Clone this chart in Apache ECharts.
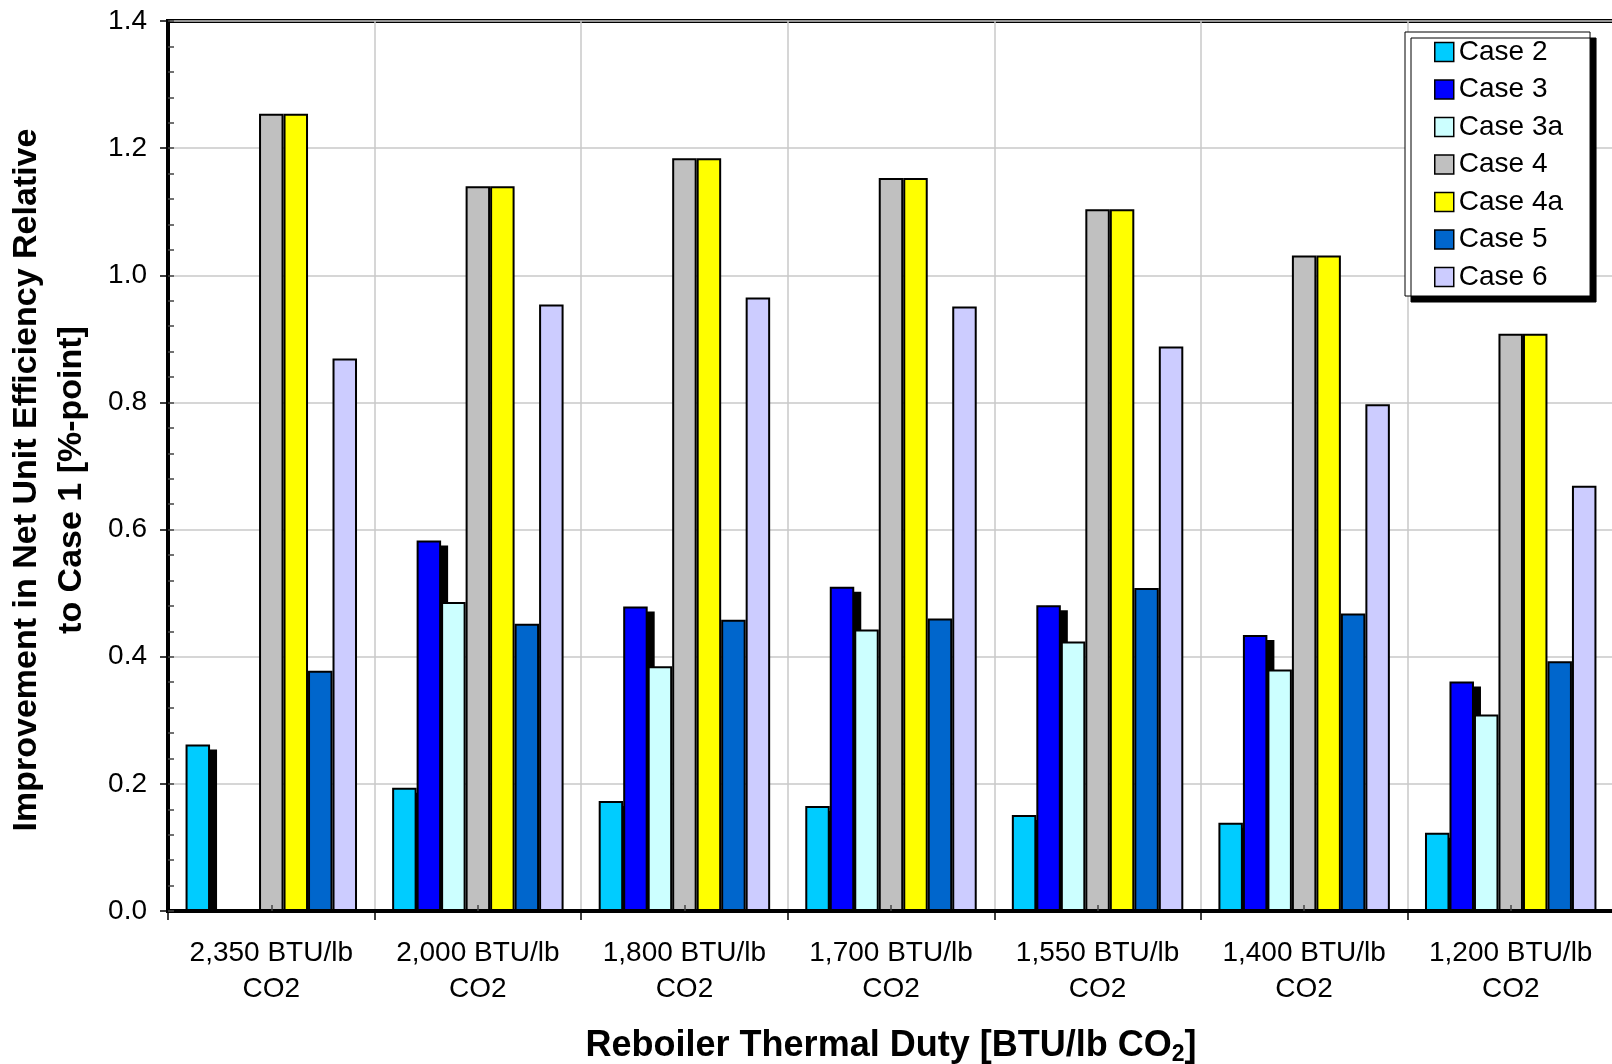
<!DOCTYPE html>
<html>
<head>
<meta charset="utf-8">
<title>Reboiler Thermal Duty</title>
<script src="https://cdn.jsdelivr.net/npm/echarts@6/dist/echarts.min.js"></script>
<style>
  html, body { margin: 0; padding: 0; background: #fff; }
  #main { width: 1612px; height: 1064px; }
</style>
</head>
<body>
<div id="main"></div>
<script>
// categories (reboiler duty)
var duties = ['2,350 BTU/lb\nCO2', '2,000 BTU/lb\nCO2', '1,800 BTU/lb\nCO2', '1,700 BTU/lb\nCO2',
  '1,550 BTU/lb\nCO2', '1,400 BTU/lb\nCO2', '1,200 BTU/lb\nCO2'];

// improvement vs case 1 [%-point]
var case2  = [0.262, 0.194, 0.173, 0.165, 0.151, 0.139, 0.123];
var case3  = [null, 0.583, 0.479, 0.510, 0.481, 0.434, 0.361];
var case3a = [null, 0.486, 0.385, 0.443, 0.424, 0.380, 0.309];
var case4  = [1.254, 1.140, 1.184, 1.153, 1.104, 1.031, 0.908];
var case4a = [1.254, 1.140, 1.184, 1.153, 1.104, 1.031, 0.908];
var case5  = [0.378, 0.452, 0.458, 0.460, 0.508, 0.468, 0.393];
var case6  = [0.869, 0.954, 0.965, 0.951, 0.888, 0.797, 0.669];

var seriesNames = ['Case 2', 'Case 3', 'Case 3a', 'Case 4', 'Case 4a', 'Case 5', 'Case 6'];
var seriesData = [case2, case3, case3a, case4, case4a, case5, case6];
var colors = ['#00CCFF', '#0000FF', '#CCFFFF', '#C0C0C0', '#FFFF00', '#0066CC', '#CCCCFF'];

var font = "'Liberation Sans', Arial, sans-serif";
var catGap = 0.17; // barCategoryGap

var chart = echarts.init(document.getElementById('main'), null, { renderer: 'canvas' });

var series = seriesData.map(function (d, i) {
  return {
    name: seriesNames[i],
    type: 'bar',
    data: d,
    barGap: '0%',
    barCategoryGap: (catGap * 100) + '%',
    itemStyle: { color: colors[i], borderColor: '#000', borderWidth: 2 },
    emphasis: { disabled: true },
    z: 3
  };
});

// excel style drop shadow, only visible on case 2 / case 3
function shadowSeries(d, idx) {
  var pts = [];
  d.forEach(function (v, k) { if (v != null) pts.push([k, v]); });
  return {
    type: 'custom',
    name: seriesNames[idx] + ' shadow',
    data: pts,
    z: 2,
    silent: true,
    encode: { x: 0, y: 1 },
    renderItem: function (params, api) {
      var base = api.coord([api.value(0), 0]);
      var top = api.coord([api.value(0), api.value(1)]);
      var band = api.size([1, 0])[0];
      var inner = band * (1 - catGap);
      var bw = inner / 7;
      var left = base[0] - inner / 2 + idx * bw;
      return {
        type: 'rect',
        shape: { x: left + 6, y: top[1] + 5, width: bw + 1, height: base[1] - top[1] - 5 },
        style: { fill: '#000' }
      };
    }
  };
}
series.push(shadowSeries(case2, 0));
series.push(shadowSeries(case3, 1));

var option = {
  animation: false,
  backgroundColor: '#fff',
  textStyle: { fontFamily: font },
  grid: {
    left: 168, top: 21, right: -2, bottom: 153,
    outerBoundsMode: 'none',
    containLabel: false,
    show: true, borderColor: '#000', borderWidth: 4
  },
  legend: {
    orient: 'vertical',
    left: 1405, top: 32,
    padding: [6, 27, 5, 29],
    itemWidth: 19, itemHeight: 19, itemGap: 9.5,
    icon: 'rect',
    backgroundColor: '#fff',
    borderColor: '#000', borderWidth: 1,
    shadowColor: '#000', shadowBlur: 0, shadowOffsetX: 6, shadowOffsetY: 6,
    itemStyle: { borderColor: '#000', borderWidth: 1.5 },
    textStyle: { fontSize: 28, color: '#000', fontFamily: font },
    data: seriesNames
  },
  xAxis: [{
    type: 'category',
    data: duties,
    boundaryGap: true,
    name: '{b|Reboiler Thermal Duty [BTU/lb CO}{s|2}{b|]}',
    nameLocation: 'middle',
    nameGap: 115,
    nameTextStyle: {
      rich: {
        b: { fontSize: 36, fontWeight: 'bold', color: '#000', fontFamily: font, lineHeight: 40 },
        s: { fontSize: 23, fontWeight: 'bold', color: '#000', fontFamily: font, lineHeight: 24, verticalAlign: 'bottom' }
      }
    },
    axisLine: { lineStyle: { color: '#000', width: 4 } },
    axisTick: { show: true, length: 9, lineStyle: { color: '#000', width: 1.5 } },
    axisLabel: { fontSize: 28, color: '#000', lineHeight: 36, margin: 24, interval: 0, fontFamily: font },
    splitLine: { show: true, lineStyle: { color: '#c8c8c8', width: 1.5 } }
  }, {
    // small ticks in the middle of each group
    type: 'category',
    data: duties,
    position: 'bottom',
    z: 5,
    axisLine: { show: false },
    axisTick: { show: true, inside: true, alignWithLabel: true, length: 6, lineStyle: { color: '#444', width: 1.5 } },
    axisLabel: { show: false },
    splitLine: { show: false }
  }],
  yAxis: [{
    type: 'value',
    min: 0, max: 1.4, interval: 0.2,
    name: 'Improvement in Net Unit Efficiency Relative\nto Case 1 [%-point]',
    nameLocation: 'middle',
    nameRotate: 90,
    nameGap: 74,
    nameTextStyle: { fontSize: 34, fontWeight: 'bold', color: '#000', lineHeight: 45, fontFamily: font,
      padding: [0, 28, 0, 0] },
    axisLine: { show: true, lineStyle: { color: '#000', width: 4 } },
    axisTick: { show: true, length: 8, lineStyle: { color: '#000', width: 1.5 } },
    axisLabel: { fontSize: 28, color: '#000', margin: 21, fontFamily: font,
      formatter: function (v) { return v.toFixed(1); } },
    splitLine: { show: true, lineStyle: { color: '#c8c8c8', width: 1.5 } }
  }, {
    // minor ticks inside
    type: 'value',
    min: 0, max: 1.4, interval: 0.04,
    position: 'left',
    offset: 0,
    z: 5,
    axisLine: { show: false, onZero: false },
    axisTick: { show: true, inside: true, length: 6, lineStyle: { color: '#444', width: 1.5 } },
    axisLabel: { show: false },
    splitLine: { show: false }
  }],
  series: series
};

chart.setOption(option);
</script>
</body>
</html>
